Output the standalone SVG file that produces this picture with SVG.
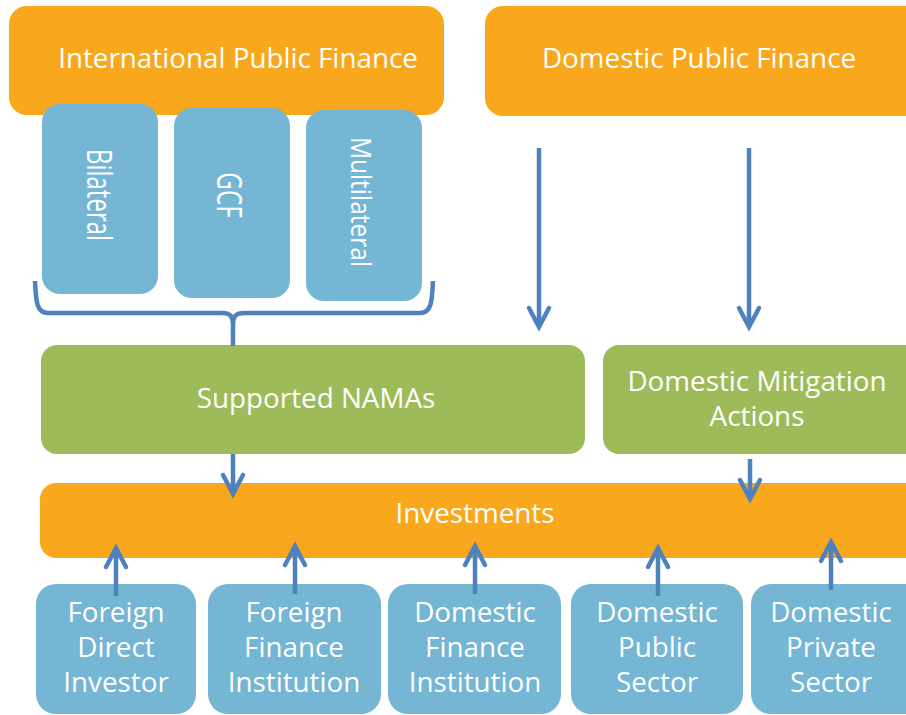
<svg xmlns="http://www.w3.org/2000/svg" width="906" height="715" viewBox="0 0 906 715">
<style>
.orange{fill:#F9A81E}
.blue{fill:#74B6D4}
.green{fill:#9EBB5A}
text{font-family:"Open Sans","Noto Sans","DejaVu Sans",sans-serif;fill:#fff;text-anchor:middle}
.t{font-size:27.8px}
.r{font-size:24px}
.conn{stroke:#4F81BD;stroke-width:4.5;fill:none}
.arr{marker-end:url(#ah)}
</style>
<defs>
<marker id="ah" viewBox="-24 -14 32 28" refX="0" refY="0" markerWidth="32" markerHeight="28" markerUnits="userSpaceOnUse" orient="auto">
<path d="M-19,-10 L0,0 L-19,10" fill="none" stroke="#4F81BD" stroke-width="4.5" stroke-linecap="round" stroke-linejoin="miter"/>
</marker>
</defs>
<rect width="906" height="715" fill="#fff"/>
<g id="intl">
<rect class="orange" x="9" y="6" width="435" height="109" rx="18"/>
<text class="t" x="238" y="68">International Public Finance</text>
</g>
<g id="domestic">
<rect class="orange" x="485" y="6" width="445" height="110" rx="18"/>
<text class="t" x="699" y="68">Domestic Public Finance</text>
</g>
<g id="bilateral">
<rect class="blue" x="42" y="104" width="116" height="190" rx="18"/>
<text class="r" transform="translate(87,195) rotate(90) scale(1,1.43)">Bilateral</text>
</g>
<g id="gcf">
<rect class="blue" x="174" y="108" width="116" height="190" rx="18"/>
<text class="r" transform="translate(217,195) rotate(90) scale(1,1.44)" style="font-size:24.3px">GCF</text>
</g>
<g id="multilateral">
<rect class="blue" x="306" y="110" width="116" height="191" rx="18"/>
<text class="r" transform="translate(351,202) rotate(90) scale(1,1.15)" style="font-size:24.5px">Multilateral</text>
</g>
<g id="namas">
<rect class="green" x="41" y="345" width="544" height="109" rx="16"/>
<text class="t" x="316" y="408">Supported NAMAs</text>
</g>
<g id="dma">
<rect class="green" x="603" y="345" width="320" height="109" rx="16"/>
<text class="t" x="757" y="391">Domestic Mitigation</text>
<text class="t" x="757" y="426">Actions</text>
</g>
<g id="investments">
<rect class="orange" x="40" y="483" width="890" height="75" rx="16"/>
<text class="t" x="475" y="523">Investments</text>
</g>
<g id="fdi">
<rect class="blue" x="36" y="584" width="160" height="130" rx="20"/>
<text class="t" x="116" y="622">Foreign</text>
<text class="t" x="116" y="657">Direct</text>
<text class="t" x="116" y="692">Investor</text>
</g>
<g id="ffi">
<rect class="blue" x="208" y="584" width="173" height="130" rx="20"/>
<text class="t" x="294" y="622">Foreign</text>
<text class="t" x="294" y="657">Finance</text>
<text class="t" x="294" y="692">Institution</text>
</g>
<g id="dfi">
<rect class="blue" x="388" y="584" width="173" height="130" rx="20"/>
<text class="t" x="475" y="622">Domestic</text>
<text class="t" x="475" y="657">Finance</text>
<text class="t" x="475" y="692">Institution</text>
</g>
<g id="dps">
<rect class="blue" x="571" y="584" width="172" height="130" rx="20"/>
<text class="t" x="657" y="622">Domestic</text>
<text class="t" x="657" y="657">Public</text>
<text class="t" x="657" y="692">Sector</text>
</g>
<g id="dpriv">
<rect class="blue" x="751" y="584" width="180" height="130" rx="20"/>
<text class="t" x="831" y="622">Domestic</text>
<text class="t" x="831" y="657">Private</text>
<text class="t" x="831" y="692">Sector</text>
</g>
<g id="connectors">
<path class="conn" stroke-width="4" d="M35,281 C36,300 36,313 48,313 L222,313 C230,313 233,316 233,325 L233,346 M433,281 C432,300 432,313 420,313 L244,313 C236,313 233,316 233,325"/>
<path class="conn arr" d="M539,148 V327"/>
<path class="conn arr" d="M749,148 V327"/>
<path class="conn arr" d="M233,454 V494"/>
<path class="conn arr" d="M750,459 V499"/>
<path class="conn arr" d="M116,596 V548"/>
<path class="conn arr" d="M295,594 V546"/>
<path class="conn arr" d="M475,594 V546"/>
<path class="conn arr" d="M658,596 V548"/>
<path class="conn arr" d="M831,590 V542"/>
</g>
</svg>
